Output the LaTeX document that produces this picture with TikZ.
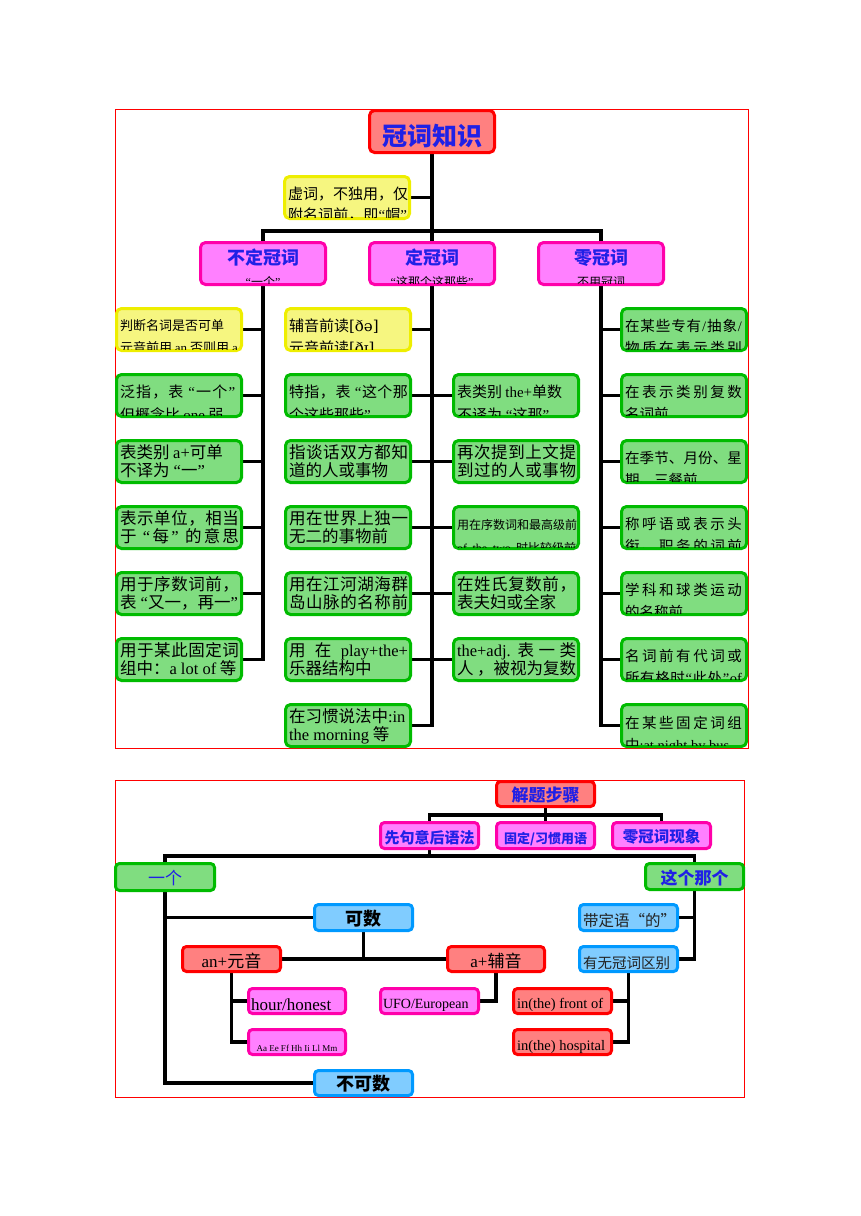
\documentclass[tikz,border=0pt]{standalone}
\usepackage{fontspec}
\setmainfont{Noto Sans CJK SC}
\newfontfamily\en{Liberation Serif}
\newfontfamily\ipa{DejaVu Serif}
\usetikzlibrary{calc}
\pgfdeclarelayer{bg}
\pgfsetlayers{bg,main}
\definecolor{tred}{HTML}{FF8080}
\definecolor{tredb}{HTML}{FF0000}
\definecolor{yfill}{HTML}{F6F680}
\definecolor{ybord}{HTML}{EEEE00}
\definecolor{pfill}{HTML}{FF80FF}
\definecolor{pbord}{HTML}{FF00AA}
\definecolor{gfill}{HTML}{80DD80}
\definecolor{gbord}{HTML}{00BB00}
\definecolor{bfill}{HTML}{80CCFF}
\definecolor{bbord}{HTML}{0099FF}
\definecolor{htext}{HTML}{2020E6}
\definecolor{dtext}{HTML}{222222}
\newcommand\fs[1]{\fontsize{#1}{#1}\selectfont}
\newcommand\hd[1]{\fontsize{#1}{#1}\selectfont\bfseries}
\newcommand\oq{\makebox[0.7em][r]{\en “}}
\newcommand\cq{\makebox[0.7em][l]{\en ”}}
\newcommand\oqn{{\en “}}
\newcommand\cqn{{\en ”}}
\newcommand\slh{{\en /}}
\makeatletter
\def\spr@x#1{{#1}\futurelet\spr@n\spr@y}
\def\spr@y{\ifx\spr@n\relax\expandafter\@gobble\else\hfill\expandafter\spr@x\fi}
\newcommand\spr[2]{\makebox[#1][s]{\spr@x#2\relax}}
\makeatother
\tikzset{
  box/.style={rounded corners=5pt, line width=3pt, inner sep=0pt, outer sep=0pt},
  gb/.style={box, fill=gfill, draw=gbord},
  yb/.style={box, fill=yfill, draw=ybord},
  pb/.style={box, fill=pfill, draw=pbord},
  rb/.style={box, fill=tred, draw=tredb},
  bb/.style={box, fill=bfill, draw=bbord},
  sb/.style={rounded corners=4pt},
  conn/.style={line width=3.8pt, black},
  txt/.style={anchor=base west, inner sep=0pt, outer sep=0pt},
  ctxt/.style={anchor=base, inner sep=0pt, outer sep=0pt},
}
\newcommand\B[6]{\node[#1,minimum width={#5-#3-3},minimum height={#6-#4-3}] (#2) at ({(#3+#5)/2},{(#4+#6)/2}) {};}
\newcommand\CL[1]{\clip ([xshift=1.5pt,yshift=1.5pt]#1.south west) rectangle ([xshift=-1.5pt,yshift=-1.5pt]#1.north east);}
\newcommand\TB[9]{%
  \B{#1}{#2}{#3}{#4}{#3+128}{#4+45}
  \begin{scope}\CL{#2}
    \node[txt,font=\fs{#7}] (#2a) at ({#3+5},{#4+#5}) {#8};
    \node[txt,font=\fs{#7}] (#2b) at ({#3+5},{#4+#6}) {#9};
  \end{scope}}
\begin{document}
\begin{tikzpicture}[x=1pt,y=-1pt]
\useasboundingbox (0,0) rectangle (860,1216);
% ================= top diagram =================
\draw[red, line width=0.8pt] (115,109) rectangle (748,748);
\B{rb}{T}{368}{109}{496}{154}
\node[ctxt,font=\hd{25},text=htext] (Ta) at (432,145) {冠词知识};

\TB{yb}{Y0}{283}{175}{24}{45}{15}{\spr{119pt}{虚词，不独用，仅}}{\spr{119pt}{附名词前，即\oqn 帽\cqn}}

\B{pb}{P1}{199}{241}{327}{286}
\B{pb}{P2}{368}{241}{496}{286}
\B{pb}{P3}{537}{241}{665}{286}
\begin{scope}\CL{P1}
  \node[ctxt,font=\hd{18},text=htext] (P1a) at (263,264) {不定冠词};
  \node[ctxt,font=\fs{12}] (P1b) at (263,286) {\oq 一个\cq};
\end{scope}
\begin{scope}\CL{P2}
  \node[ctxt,font=\hd{18},text=htext] (P2a) at (432,264) {定冠词};
  \node[ctxt,font=\fs{12}] (P2b) at (432,286) {\oq 这那个这那些\cq};
\end{scope}
\begin{scope}\CL{P3}
  \node[ctxt,font=\hd{18},text=htext] (P3a) at (601,264) {零冠词};
  \node[ctxt,font=\fs{12}] (P3b) at (601,286) {不用冠词};
\end{scope}

% row 1
\TB{yb}{L1}{115}{307}{23}{45}{13}{判断名词是否可单}{元音前用 {\en an} 否则用 {\en a}}
\TB{yb}{M1}{284}{307}{24}{46}{15}{辅音前读{\ipa[ðə]}}{元音前读{\ipa[ðɪ]}}
\TB{gb}{R1}{620}{307}{24}{46}{14.5}{\spr{117pt}{在某些专有\slh 抽象\slh}}{\spr{117pt}{物质在表示类别}}
% row 2
\TB{gb}{L2}{115}{373}{24}{47}{15}{\spr{119pt}{泛指，表\oq 一个\cq}}{但概念比 {\en one} 弱}
\TB{gb}{M2}{284}{373}{24}{47}{15}{\spr{119pt}{特指，表\oq 这个那}}{个这些那些\cq}
\TB{gb}{N2}{452}{373}{24}{47}{15}{表类别 {\en the+}单数}{不译为\oq 这那\cq}
\TB{gb}{R2}{620}{373}{24}{46}{14.5}{\spr{117pt}{在表示类别复数}}{名词前}
% row 3
\TB{gb}{L3}{115}{439}{19}{37}{16.5}{表类别 {\en a+}可单}{不译为\oq 一\cq}
\TB{gb}{M3}{284}{439}{19}{37}{16.5}{\spr{119pt}{指谈话双方都知}}{道的人或事物}
\TB{gb}{N3}{452}{439}{19}{37}{16.5}{\spr{119pt}{再次提到上文提}}{\spr{119pt}{到过的人或事物}}
\TB{gb}{R3}{620}{439}{24}{46}{14.5}{\spr{117pt}{在季节、月份、星}}{期、三餐前}
% row 4
\TB{gb}{L4}{115}{505}{19}{37}{16.5}{\spr{119pt}{表示单位，相当}}{\spr{119pt}{于\oq 每\cq 的意思}}
\TB{gb}{M4}{284}{505}{19}{37}{16.5}{\spr{119pt}{用在世界上独一}}{无二的事物前}
\TB{gb}{N4}{452}{505}{24}{47}{12}{\spr{119pt}{用在序数词和最高级前}}{\makebox[119pt][s]{{\en of the two} 时比较级前}}
\TB{gb}{R4}{620}{505}{24}{46}{14.5}{\spr{117pt}{称呼语或表示头}}{\spr{117pt}{衔、职务的词前}}
% row 5
\TB{gb}{L5}{115}{571}{19}{37}{16.5}{\spr{119pt}{用于序数词前，}}{\spr{119pt}{表\oq 又一，再一\cq}}
\TB{gb}{M5}{284}{571}{19}{37}{16.5}{\spr{119pt}{用在江河湖海群}}{\spr{119pt}{岛山脉的名称前}}
\TB{gb}{N5}{452}{571}{19}{37}{16.5}{\spr{119pt}{在姓氏复数前，}}{表夫妇或全家}
\TB{gb}{R5}{620}{571}{24}{46}{14.5}{\spr{117pt}{学科和球类运动}}{的名称前}
% row 6
\TB{gb}{L6}{115}{637}{19}{37}{16.5}{\spr{119pt}{用于某此固定词}}{组中：{\en a lot of} 等}
\TB{gb}{M6}{284}{637}{19}{37}{16.5}{\makebox[119pt][s]{用 在 {\en play+the+}}}{乐器结构中}
\TB{gb}{N6}{452}{637}{19}{37}{16.5}{\makebox[119pt][s]{{\en the+adj.} 表 一 类}}{\makebox[119pt][s]{人 ，被视为复数}}
\TB{gb}{R6}{620}{637}{24}{46}{14.5}{\spr{117pt}{名词前有代词或}}{\spr{117pt}{所有格时\oqn 此处\cqn{\en of}}}
% row 7
\TB{gb}{M7}{284}{703}{19}{37}{16.5}{在习惯说法中{\en :in}}{{\en the morning} 等}
\TB{gb}{R7}{620}{703}{25}{47}{14.5}{\spr{117pt}{在某些固定词组}}{中{\en :at night by bus}}

\coordinate (tbar) at (0,231);
\begin{pgfonlayer}{bg}
\draw[conn] (T.south) -- (P2.north);
\draw[conn] (Y0.east) -- (Y0.east -| T.south);
\draw[conn] (P1.north) -- (P1.north |- tbar) -| (P3.north);
\draw[conn] (P1.south) |- (L6.east);
\foreach \i in {1,...,5} \draw[conn] (L\i.east) -- (L\i.east -| P1.south);
\draw[conn] (P2.south) |- (M7.east);
\foreach \i in {1,...,6} \draw[conn] (M\i.east) -- (M\i.east -| P2.south);
\foreach \i in {2,...,6} \draw[conn] (N\i.west) -- (N\i.west -| P2.south);
\draw[conn] (P3.south) |- (R7.west);
\foreach \i in {1,...,6} \draw[conn] (R\i.west) -- (R\i.west -| P3.south);
\end{pgfonlayer}

% ================= bottom diagram =================
\draw[red, line width=0.8pt] (115,780) rectangle (744,1097);
\B{rb,sb}{S0}{495}{780}{596}{808}
\B{pb,sb}{S1}{379}{821}{480}{850}
\B{pb,sb}{S2}{495}{821}{596}{850}
\B{pb,sb}{S3}{611}{821}{712}{850}
\B{gb,sb}{A1}{114}{862}{216}{892}
\B{gb,sb}{B1}{644}{862}{745}{891}
\B{bb,sb}{C1}{313}{903}{414}{932}
\B{bb,sb}{C2}{313}{1069}{414}{1097}
\B{rb,sb}{D1}{181}{945}{282}{973}
\B{rb,sb}{D2}{446}{945}{546}{973}
\B{pb,sb}{E1}{247}{987}{347}{1015}
\B{pb,sb}{E2}{247}{1028}{347}{1056}
\B{pb,sb}{E3}{379}{987}{480}{1015}
\B{bb,sb}{F1}{578}{903}{679}{932}
\B{bb,sb}{F2}{578}{945}{679}{973}
\B{rb,sb}{G1}{512}{987}{613}{1015}
\B{rb,sb}{G2}{512}{1028}{613}{1056}

\node[ctxt,font=\hd{17},text=htext] (S0a) at (545.5,801) {解题步骤};
\node[ctxt,font=\hd{15},text=htext] (S1a) at (429.5,843) {先句意后语法};
\node[ctxt,font=\hd{13},text=htext] (S2a) at (545.5,843) {固定/习惯用语};
\node[ctxt,font=\hd{15.5},text=htext] (S3a) at (661.5,842) {零冠词现象};
\node[ctxt,font=\fs{17},text=htext] (A1a) at (165,884) {一个};
\node[ctxt,font=\hd{17},text=htext] (B1a) at (694.5,884) {这个那个};
\node[ctxt,font=\hd{18}] (C1a) at (363.5,925) {可数};
\node[ctxt,font=\hd{18}] (C2a) at (363.5,1090) {不可数};
\node[ctxt,font=\fs{17}] (D1a) at (231.5,967) {{\en an+}元音};
\node[ctxt,font=\fs{17}] (D2a) at (496,967) {{\en a+}辅音};
\node[txt,font=\en\fs{17}] (E1a) at (251,1010) {hour/honest};
\node[ctxt,font=\en\fs{9}] (E2a) at (297,1051) {Aa Ee Ff Hh Ii Ll Mm};
\node[txt,font=\en\fs{14}] (E3a) at (383,1008) {UFO/European};
\node[txt,font=\fs{15.5},text=dtext] (F1a) at (583,926) {带定语“的”};
\node[txt,font=\fs{14.5},text=dtext] (F2a) at (583,968) {有无冠词区别};
\node[txt,font=\en\fs{14.5}] (G1a) at (517,1008) {in(the) front of};
\node[txt,font=\en\fs{14.5}] (G2a) at (517,1050) {in(the) hospital};

\coordinate (bar1) at (0,815);
\coordinate (bar2) at (0,856);
\begin{pgfonlayer}{bg}
\draw[conn] (S0.south) -- (S2.north);
\draw[conn] (S1.north) -- (S1.north |- bar1) -| (S3.north);
\draw[conn] (S1.south) -- (S1.south |- bar2);
\draw[conn] (A1.north) -- (A1.north |- bar2) -| (B1.north);
\draw[conn] (A1.south) |- (C2.west);
\draw[conn] (C1.west) -- (C1.west -| A1.south);
\draw[conn] (D1.east) -- (D2.west);
\draw[conn] (C1.south) -- (C1.south |- D1.east);
\draw[conn] (D1.south) |- (E2.west);
\draw[conn] (E1.west) -- (E1.west -| D1.south);
\draw[conn] (D2.south) |- (E3.east);
\draw[conn] (B1.south) |- (F2.east);
\draw[conn] (F1.east) -- (F1.east -| B1.south);
\draw[conn] (F2.south) |- (G2.east);
\draw[conn] (G1.east) -- (G1.east -| F2.south);
\end{pgfonlayer}
\end{tikzpicture}
\end{document}
